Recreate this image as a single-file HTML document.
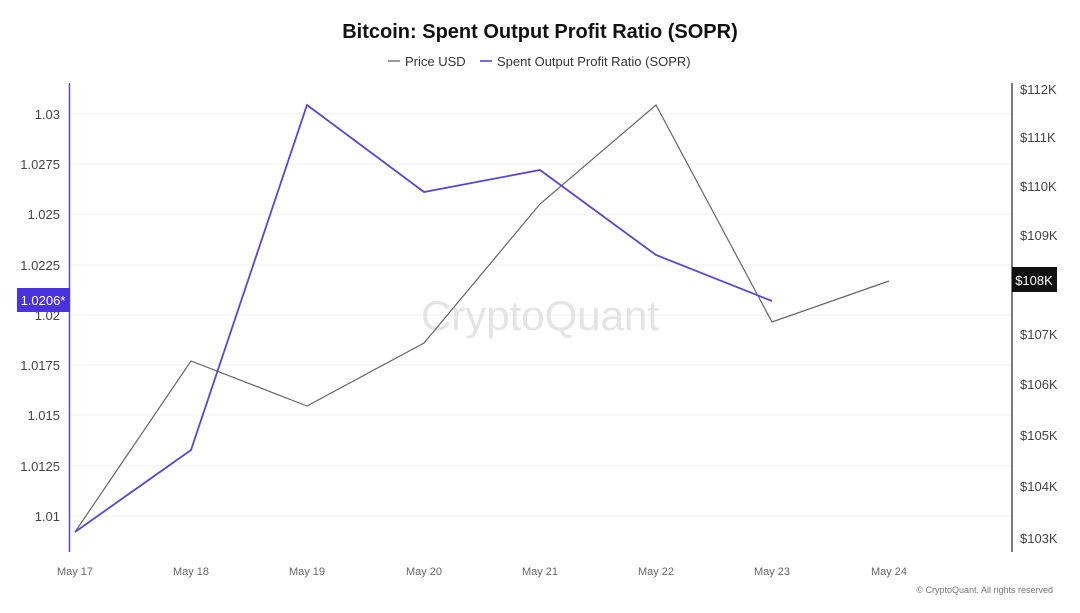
<!DOCTYPE html>
<html><head><meta charset="utf-8"><style>
body{margin:0;background:#fff;font-family:"Liberation Sans",sans-serif}
</style></head><body>
<svg width="1080" height="608" xmlns="http://www.w3.org/2000/svg" font-family="Liberation Sans, sans-serif">
<rect width="1080" height="608" fill="#fff"/>
<text x="540" y="38" text-anchor="middle" font-size="20" font-weight="bold" fill="#111">Bitcoin: Spent Output Profit Ratio (SOPR)</text>
<line x1="388" y1="61" x2="400" y2="61" stroke="#555" stroke-width="1.2"/>
<text x="405" y="66" font-size="13" fill="#333">Price USD</text>
<line x1="480" y1="61" x2="492" y2="61" stroke="#5b45d6" stroke-width="1.6"/>
<text x="497" y="66" font-size="13" fill="#333">Spent Output Profit Ratio (SOPR)</text>
<g stroke="#f0f0f0" stroke-width="1">
<line x1="70" x2="1012" y1="114" y2="114"/><line x1="70" x2="1012" y1="164" y2="164"/><line x1="70" x2="1012" y1="214" y2="214"/><line x1="70" x2="1012" y1="265" y2="265"/><line x1="70" x2="1012" y1="315" y2="315"/><line x1="70" x2="1012" y1="365" y2="365"/><line x1="70" x2="1012" y1="415" y2="415"/><line x1="70" x2="1012" y1="466" y2="466"/><line x1="70" x2="1012" y1="516" y2="516"/>
</g>
<text x="540" y="330" text-anchor="middle" font-size="42" fill="#e4e4e4">CryptoQuant</text>
<line x1="69.5" y1="83" x2="69.5" y2="552" stroke="#5b45d6" stroke-width="1.5"/>
<line x1="1012" y1="83" x2="1012" y2="552" stroke="#222" stroke-width="1.2"/>
<g font-size="13" fill="#444" text-anchor="end">
<text x="60" y="119">1.03</text><text x="60" y="169">1.0275</text><text x="60" y="219">1.025</text><text x="60" y="270">1.0225</text><text x="60" y="320">1.02</text><text x="60" y="370">1.0175</text><text x="60" y="420">1.015</text><text x="60" y="471">1.0125</text><text x="60" y="521">1.01</text>
</g>
<g font-size="13" fill="#444">
<text x="1020" y="94">$112K</text><text x="1020" y="142">$111K</text><text x="1020" y="191">$110K</text><text x="1020" y="240">$109K</text><text x="1020" y="339">$107K</text><text x="1020" y="389">$106K</text><text x="1020" y="440">$105K</text><text x="1020" y="491">$104K</text><text x="1020" y="543">$103K</text>
</g>
<g font-size="11" fill="#666" text-anchor="middle">
<text x="75" y="575">May 17</text><text x="191" y="575">May 18</text><text x="307" y="575">May 19</text><text x="424" y="575">May 20</text><text x="540" y="575">May 21</text><text x="656" y="575">May 22</text><text x="772" y="575">May 23</text><text x="889" y="575">May 24</text>
</g>
<polyline fill="none" stroke="#666" stroke-width="1.2" points="75,532 191,361 307,406 424,343 540,204 656,105 772,322 889,281"/>
<polyline fill="none" stroke="#5b45d6" stroke-width="1.8" points="75,532 191,450 307,105 424,192 540,170 656,255 772,301"/>
<rect x="17" y="288" width="53" height="24" fill="#4a33de"/>
<text x="43" y="305" text-anchor="middle" font-size="13" fill="#fff">1.0206*</text>
<rect x="1012" y="267" width="45" height="25" fill="#111"/>
<text x="1034" y="285" text-anchor="middle" font-size="13" fill="#fff">$108K</text>
<text x="1053" y="593" text-anchor="end" font-size="9" fill="#777">© CryptoQuant. All rights reserved</text>
</svg>
</body></html>
